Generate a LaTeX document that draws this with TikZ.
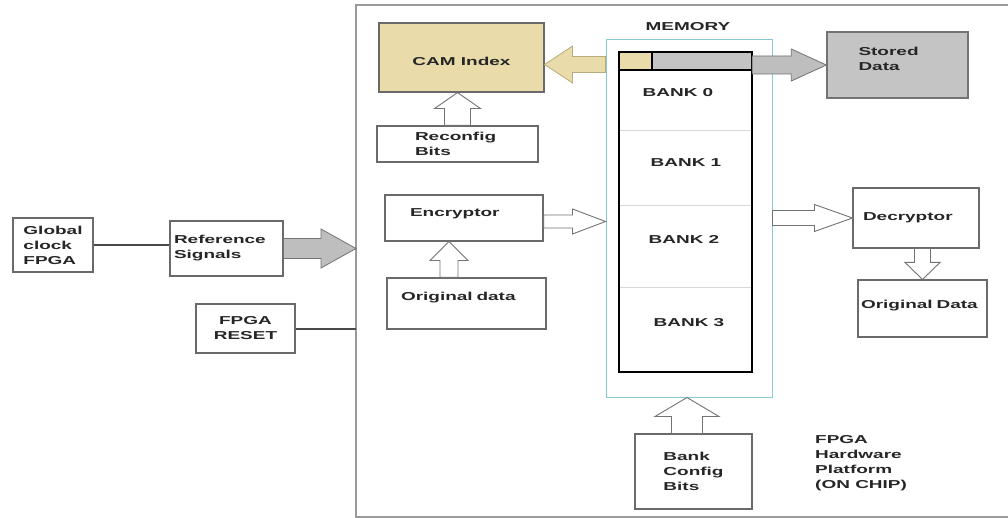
\documentclass[tikz,border=0pt]{standalone}
\usepackage{fontspec}
\setmainfont{Liberation Sans}[FakeStretch=1.65]
\usetikzlibrary{calc}

\definecolor{txtcol}{HTML}{262626}
\definecolor{boxline}{HTML}{6A6A6A}
\definecolor{camtan}{HTML}{E9DCAA}
\definecolor{tanline}{HTML}{B8AC7C}
\definecolor{storedgray}{HTML}{C4C4C4}
\definecolor{arrowgray}{HTML}{BEBEBE}
\definecolor{arrowline}{HTML}{737373}
\definecolor{memcyan}{HTML}{86C9D2}
\definecolor{framegray}{HTML}{9A9A9A}
\definecolor{divgray}{HTML}{D8D8D8}
\definecolor{wire}{HTML}{4A4A4A}

\newcommand{\dfont}{\bfseries\fontsize{11.5}{15}\selectfont}

% block arrow: #1 style, #2 tail, #3 tip, #4 half shaft, #5 half head, #6 head length
\newcommand{\fatarrow}[6]{%
  \coordinate (fahead) at ($(#3)!#6!(#2)$);
  \draw[#1] ($(#2)!#4!90:(#3)$) -- ($(fahead)!#4!90:(#3)$) -- ($(fahead)!#5!90:(#3)$)
    -- (#3) -- ($(fahead)!#5!-90:(#3)$) -- ($(fahead)!#4!-90:(#3)$)
    -- ($(#2)!#4!-90:(#3)$) -- cycle;}

\begin{document}
\begin{tikzpicture}[x=1pt,y=-1pt,
  txt/.style={font=\dfont, text=txtcol},
  box/.style={txt, draw=boxline, line width=1.1pt, fill=white, inner sep=0pt},
  hollow/.style={draw=arrowline, fill=white, line width=0.9pt},
  grayarrow/.style={draw=arrowline, fill=arrowgray, line width=0.8pt},
  tanarrow/.style={draw=tanline, fill=camtan, line width=0.8pt},
  wireline/.style={draw=wire, line width=2pt},
  banklabel/.style={txt, inner sep=0pt},
  divider/.style={draw=divgray, line width=0.8pt}]

\fill[white] (0,0) rectangle (1008,518);
\useasboundingbox (0,0) rectangle (1008,518);

% on-chip platform frame
\coordinate (fTL) at (356,5);
\coordinate (fBL) at (356,517);
\draw[framegray, line width=1.6pt] (1008,5) -- (fTL) -- (fBL) -- (1008,517);

% off-chip blocks
\node[box, minimum width=80pt, minimum height=54pt, align=left] (gclk) at (53,245) {Global\\clock\\FPGA};
\node[box, minimum width=113pt, minimum height=55pt, text width=105pt, inner xsep=4pt, align=left] (ref) at (226.5,248.5) {Reference\\Signals};
\node[box, minimum width=99pt, minimum height=49pt, align=center] (reset) at (245.5,328.5) {FPGA\\RESET};

% on-chip blocks
\node[box, fill=camtan, minimum width=165pt, minimum height=69pt, text height=17pt, text depth=0pt] (cam) at (461.5,57.5) {CAM Index};
\node[box, minimum width=161pt, minimum height=36pt, text width=85pt, inner xsep=38pt, align=left] (reconf) at (457.5,144) {Reconfig\\Bits};
\node[box, minimum width=158pt, minimum height=46pt, text width=108pt, inner xsep=25pt, align=left, text height=8.5pt, text depth=11.1pt] (enc) at (464,218) {Encryptor};
\node[box, minimum width=159pt, minimum height=51pt, text width=131pt, inner xsep=14pt, align=left, text height=8.5pt, text depth=14.1pt] (origL) at (466.5,303.5) {Original data};
\node[box, minimum width=126pt, minimum height=60pt, text width=106pt, inner xsep=10pt, align=left, text height=8.5pt, text depth=3.1pt] (dec) at (916,218) {Decryptor};
\node[box, minimum width=129pt, minimum height=57pt, text width=123pt, inner xsep=3pt, align=left, text height=8.5pt, text depth=8.9pt] (origR) at (922.5,308.5) {Original Data};
\node[box, fill=storedgray, draw=arrowline, line width=1.4pt, minimum width=141pt, minimum height=66pt] (stored) at (897.5,65) {};
\node[txt, anchor=north west, align=left, inner sep=0pt] (storedtxt) at ($(stored.north west)+(32,16)$) {Stored\\Data};
\node[box, minimum width=117pt, minimum height=75pt, align=left] (bcfg) at (693.5,471.5) {Bank\\Config\\Bits};
\node[txt, anchor=north west, align=left, inner sep=0pt] (plat) at (815,435) {FPGA\\Hardware\\Platform\\(ON CHIP)};

% memory with its banks
\node[txt, inner sep=0pt] (memlabel) at (688,26.5) {MEMORY};
\node[draw=memcyan, line width=1pt, minimum width=166pt, minimum height=357pt, inner sep=0pt] (mem) at (689,218.5) {};
\node[minimum width=133pt, minimum height=320pt, inner sep=0pt] (bank) at (685.5,212) {};
\fill[camtan] (bank.north west) rectangle ($(bank.north west)+(33,18)$);
\fill[storedgray] ($(bank.north west)+(33,0)$) rectangle ($(bank.north east)+(0,18)$);
\draw[line width=2.5pt] ($(bank.north west)+(0,18)$) -- ($(bank.north east)+(0,18)$);
\draw[line width=2.5pt] ($(bank.north west)+(33,0)$) -- ($(bank.north west)+(33,18)$);
\draw[divider] (bank.west |- 0,130) -- (bank.east |- 0,130);
\draw[divider] (bank.west |- 0,205) -- (bank.east |- 0,205);
\draw[divider] (bank.west |- 0,287) -- (bank.east |- 0,287);
\draw[line width=2.5pt] (bank.north west) rectangle (bank.south east);
\node[banklabel] (bank0) at (678,92.5) {BANK 0};
\node[banklabel] (bank1) at (686,163) {BANK 1};
\node[banklabel] (bank2) at (684,239) {BANK 2};
\node[banklabel] (bank3) at (689,323) {BANK 3};

% plain wires
\draw[wireline] (gclk.east) -- (gclk.east -| ref.west);
\draw[wireline] (reset.east) -- (reset.east -| fTL);

% block arrows
\coordinate (refT) at (ref.east -| fTL);
\fatarrow{grayarrow}{ref.east}{refT}{10pt}{19.5pt}{35pt}

\coordinate (camT) at ($(cam.east)+(0,7)$);
\coordinate (camS) at (camT -| mem.west);
\fatarrow{tanarrow}{camS}{camT}{8pt}{18.5pt}{28pt}

\coordinate (storeS) at (stored.west -| bank.east);
\fatarrow{grayarrow}{storeS}{stored.west}{9pt}{16pt}{35pt}

\coordinate (rcT) at (reconf.north |- cam.south);
\fatarrow{hollow}{reconf.north}{rcT}{13pt}{23pt}{16pt}

\coordinate (oeS) at ($(origL.north)+(-17.5,0)$);
\coordinate (oeT) at (oeS |- enc.south);
\fatarrow{hollow}{oeS}{oeT}{9pt}{19pt}{19pt}

\coordinate (emS) at ($(enc.east)+(0,3.5)$);
\coordinate (emT) at (emS -| mem.west);
\fatarrow{hollow}{emS}{emT}{6.5pt}{12.5pt}{33pt}

\coordinate (mdS) at (dec.west -| mem.east);
\fatarrow{hollow}{mdS}{dec.west}{7.5pt}{13.5pt}{38pt}

\coordinate (doS) at (origR.north |- dec.south);
\fatarrow{hollow}{doS}{origR.north}{8pt}{17.5pt}{17pt}

\coordinate (bmS) at ($(bcfg.north)+(-6.5,0)$);
\coordinate (bmT) at (bmS |- mem.south);
\fatarrow{hollow}{bmS}{bmT}{15.5pt}{32pt}{19pt}

\end{tikzpicture}
\end{document}
